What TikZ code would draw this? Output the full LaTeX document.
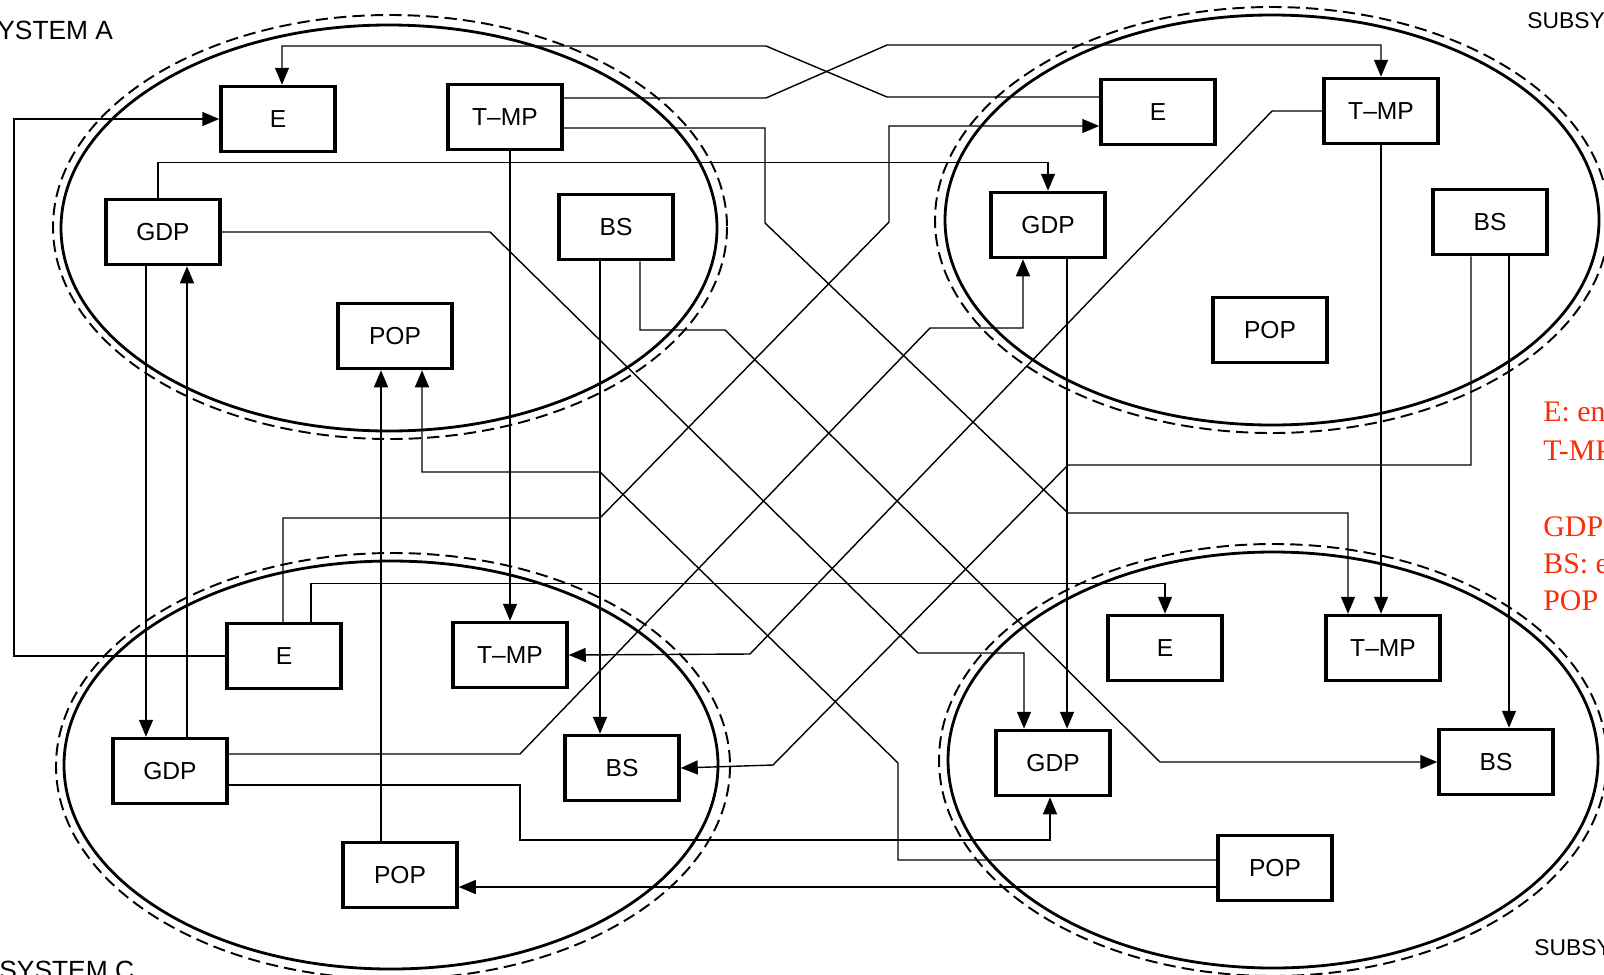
\documentclass[tikz,border=0pt]{standalone}
\usepackage{fontspec}
\setmainfont{Liberation Sans}
\newfontfamily\redserif{Liberation Serif}
\usetikzlibrary{arrows.meta,calc}
\definecolor{redtxt}{RGB}{250,45,10}
\begin{document}
\begin{tikzpicture}[x=0.02cm,y=-0.02cm,
  box/.style={draw,line width=2pt,fill=white,minimum width=2.28cm,minimum height=1.3cm,inner sep=0pt,font=\fontsize{14}{16}\selectfont},
  conn/.style={line width=0.8pt},
  arr/.style={conn,-{Triangle[length=3.4mm,width=2.8mm]}},
  ring/.style={line width=1.6pt},
  dring/.style={line width=1.1pt,dash pattern=on 7pt off 3.5pt},
  sublabel/.style={font=\fontsize{15}{17}\selectfont,inner sep=0pt},
  sublabelR/.style={font=\fontsize{13}{15}\selectfont,inner sep=0pt},
  legend/.style={font=\redserif\fontsize{17}{20}\selectfont,text=redtxt,inner sep=0pt,anchor=west}]
\useasboundingbox (0,0) rectangle (1604,974);

% subsystem outlines
\draw[ring] (389,228) ellipse [x radius=328, y radius=203];
\draw[dring] (390,227) ellipse [x radius=337, y radius=212];
\draw[ring] (1272,220) ellipse [x radius=327, y radius=205];
\draw[dring] (1272,220) ellipse [x radius=337, y radius=213];
\draw[ring] (391,765) ellipse [x radius=327, y radius=204];
\draw[dring] (393,766) ellipse [x radius=337, y radius=213];
\draw[ring] (1273,760) ellipse [x radius=325, y radius=208];
\draw[dring] (1273,760) ellipse [x radius=334, y radius=216];

% subsystem A
\node[box] (eA)   at (278,119) {E};
\node[box] (tmpA) at (505,117) {T–MP};
\node[box] (gdpA) at (163,232) {GDP};
\node[box] (bsA)  at (616,227) {BS};
\node[box] (popA) at (395,336) {POP};
% subsystem B
\node[box] (eB)   at (1158,112) {E};
\node[box] (tmpB) at (1381,111) {T–MP};
\node[box] (gdpB) at (1048,225) {GDP};
\node[box] (bsB)  at (1490,222) {BS};
\node[box] (popB) at (1270,330) {POP};
% subsystem C
\node[box] (eC)   at (284,656) {E};
\node[box] (tmpC) at (510,655) {T–MP};
\node[box] (gdpC) at (170,771) {GDP};
\node[box] (bsC)  at (622,768) {BS};
\node[box] (popC) at (400,875) {POP};
% subsystem D
\node[box] (eD)   at (1165,648) {E};
\node[box] (tmpD) at (1383,648) {T–MP};
\node[box] (gdpD) at (1053,763) {GDP};
\node[box] (bsD)  at (1496,762) {BS};
\node[box] (popD) at (1275,868) {POP};

% connectors
\draw[arr] (eC.west) -| (14,400) |- (eA.west);
\draw[arr] ($(eB.west)+(0,-15)$) -- (887,97) -- (766,46) -| ($(eA.north)+(4,0)$);
\draw[arr] ($(tmpA.east)+(0,-19)$) -- (766,98) -- (887,45) -| (tmpB.north);
\draw[arr] ($(tmpA.east)+(0,11)$) -| (765,223) -- (1068,513) -| ($(tmpD.north)+(-35,0)$);
\draw[arr] (tmpA.south -| tmpC.north) -- (tmpC.north);
\draw[arr] ($(gdpA.north)+(-5,0)$) |- ($(gdpB.north)+(0,-28)$) -- (gdpB.north);
\draw[arr] (gdpA.east) -- (490,232) -- (918,653) -| ($(gdpD.north)+(-29,0)$);
\draw[arr] ($(gdpA.south)+(-17,0)$) coordinate (t) -- (t |- gdpC.north);
\draw[arr] ($(gdpC.north)+(17,0)$) coordinate (t) -- (t |- gdpA.south);
\draw[arr] ($(bsA.south)+(-16,0)$) coordinate (t) -- (t |- bsC.north);
\draw[arr] ($(bsA.south)+(24,0)$) |- (725,330) -- (1160,762) -- (bsD.west);
\draw[arr] ($(popC.north)+(-19,0)$) coordinate (t) -- (t |- popA.south);
\draw[arr] ($(popD.west)+(0,-8)$) -| (898,763) -- (600,472) -| ($(popA.south)+(27,0)$);
\draw[arr] ($(eC.north)+(-1,0)$) |- (600,518) -- (889,222) |- ($(eB.west)+(0,14)$);
\draw[arr] ($(eC.north)+(27,0)$) |- ($(eD.north)+(0,-30)$) -- (eD.north);
\draw[arr] (tmpB.west) -- (1272,111) -- (750,654) -- (tmpC.east);
\draw[arr] (tmpB.south) -- (tmpB.south |- tmpD.north);
\draw[arr] ($(gdpB.south)+(19,0)$) coordinate (t) -- (t |- gdpD.north);
\draw[arr] ($(gdpC.east)+(0,-17)$) -- (520,754) -- (930,328) -| ($(gdpB.south)+(-25,0)$);
\draw[arr] ($(gdpC.east)+(0,14)$) -| (520,840) -| ($(gdpD.south)+(-3,0)$);
\draw[arr] ($(bsB.south)+(-19,0)$) |- (1068,465) -- (773,765) -- (bsC.east);
\draw[arr] ($(bsB.south)+(19,0)$) coordinate (t) -- (t |- bsD.north);
\draw[arr] ($(popD.west)+(0,19)$) coordinate (t) -- (t -| popC.east);

% subsystem labels
\node[sublabel,anchor=west] (labA) at (-3,30) {YSTEM A};
\node[sublabelR,anchor=west] (labB) at (1527,21) {SUBSY};
\node[sublabel,anchor=north west] (labC) at (-1,961) {SYSTEM C};
\node[sublabelR,anchor=west] (labD) at (1534,948) {SUBSY};

% legend (cut at the right edge)
\node[legend] (lgE)   at (1543,412) {E: en};
\node[legend] (lgT)   at (1543,451) {T-MP};
\node[legend] (lgG)   at (1543,527) {GDP};
\node[legend] (lgB)   at (1543,564) {BS: e};
\node[legend] (lgP)   at (1543,601) {POP};
\end{tikzpicture}
\end{document}
